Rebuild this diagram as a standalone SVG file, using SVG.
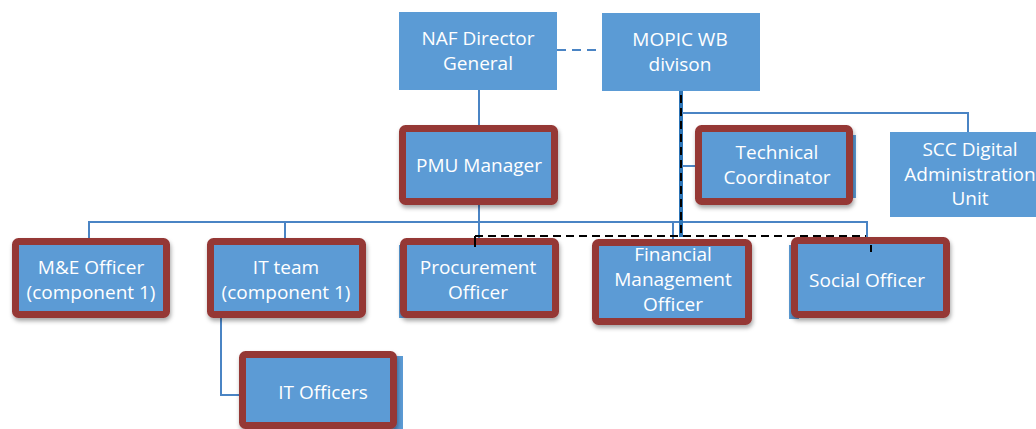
<svg xmlns="http://www.w3.org/2000/svg" width="1036" height="429" viewBox="0 0 1036 429">
<defs>
<filter id="sh" x="-10%" y="-10%" width="125%" height="135%">
<feDropShadow dx="1" dy="3" stdDeviation="2" flood-color="#000" flood-opacity="0.35"/>
</filter>
<style>
.bx{fill:#5B9BD5;}
.fr{fill:#5B9BD5;stroke:#953735;stroke-width:7;}
.t{font-family:"Open Sans","Liberation Sans",sans-serif;font-size:19px;fill:#fff;text-anchor:middle;dominant-baseline:central;}
.ln{stroke:#4A84C4;stroke-width:2;fill:none;}
.bd{stroke:#000;stroke-width:2;fill:none;stroke-dasharray:8 5;}
</style>
</defs>
<rect width="1036" height="429" fill="#fff"/>
<g id="connectors">
<line class="ln" x1="557" y1="50" x2="602" y2="50" stroke-dasharray="9 6" stroke-width="2.5"/>
<line class="ln" x1="479" y1="90" x2="479" y2="125"/>
<line class="ln" x1="479" y1="205" x2="479" y2="238"/>
<polyline class="ln" points="89,238 89,222 867,222 867,237"/>
<line class="ln" x1="285" y1="222" x2="285" y2="238"/>
<line class="ln" x1="673" y1="222" x2="673" y2="239"/>
<line x1="681" y1="91" x2="681" y2="237" stroke="#2E75B6" stroke-width="4"/>
<polyline class="ln" points="681,113 968,113 968,132"/>
<line class="ln" x1="681" y1="166" x2="695" y2="166"/>
<polyline class="ln" points="221,318 221,395 239,395"/>
</g>
<g id="n-naf"><rect class="bx" x="399" y="12" width="158" height="78"/>
<text class="t" x="478" y="38">NAF Director</text><text class="t" x="478" y="63">General</text></g>
<g id="n-mopic"><rect class="bx" x="602" y="13" width="158" height="78"/>
<text class="t" x="680" y="39">MOPIC WB</text><text class="t" x="680" y="64">divison</text></g>
<g id="n-scc"><rect class="bx" x="890" y="132" width="150" height="85"/>
<text class="t" x="970" y="149">SCC Digital</text><text class="t" x="970" y="174">Administration</text><text class="t" x="970" y="198">Unit</text></g>
<g id="n-pmu"><rect class="fr" filter="url(#sh)" x="402.5" y="128.5" width="152" height="73" rx="3"/>
<text class="t" x="479" y="165">PMU Manager</text></g>
<g id="n-tech"><rect class="bx" x="700" y="135" width="156" height="63"/><rect class="fr" filter="url(#sh)" x="698.5" y="128.5" width="151" height="73" rx="3"/>
<text class="t" x="777" y="152">Technical</text><text class="t" x="777" y="177">Coordinator</text></g>
<g id="n-me"><rect class="fr" filter="url(#sh)" x="15.5" y="241.5" width="151" height="73" rx="3"/>
<text class="t" x="91" y="267">M&amp;E Officer</text><text class="t" x="91" y="292">(component 1)</text></g>
<g id="n-itteam"><rect class="fr" filter="url(#sh)" x="210.5" y="241.5" width="152" height="73" rx="3"/>
<text class="t" x="286" y="267">IT team</text><text class="t" x="286" y="292">(component 1)</text></g>
<g id="n-proc"><rect class="bx" x="399" y="245" width="10" height="73"/><rect class="fr" filter="url(#sh)" x="403.5" y="241.5" width="152" height="73" rx="3"/>
<text class="t" x="478" y="267">Procurement</text><text class="t" x="478" y="292">Officer</text></g>
<g id="n-fin"><rect class="fr" filter="url(#sh)" x="595.5" y="242.5" width="153" height="79" rx="3"/>
<text class="t" x="673" y="254">Financial</text><text class="t" x="673" y="279">Management</text><text class="t" x="673" y="304">Officer</text></g>
<g id="n-social"><rect class="bx" x="789" y="245" width="10" height="74"/><rect class="fr" filter="url(#sh)" x="794.5" y="240.5" width="152" height="74" rx="3"/>
<text class="t" x="867" y="280">Social Officer</text></g>
<g id="n-itoff"><rect class="bx" x="245" y="356" width="158" height="73"/><rect class="fr" filter="url(#sh)" x="242.5" y="354.5" width="151" height="71" rx="3"/>
<text class="t" x="323" y="392">IT Officers</text></g>
<g id="connectors-dashed">
<line class="bd" x1="681" y1="95" x2="681" y2="236" stroke-dasharray="7 4"/>
<line class="bd" x1="475" y1="236" x2="866" y2="236"/>
<line x1="475" y1="236" x2="475" y2="247" stroke="#000" stroke-width="2"/>
<line x1="871" y1="245" x2="871" y2="252" stroke="#000" stroke-width="2"/>
</g>
</svg>
